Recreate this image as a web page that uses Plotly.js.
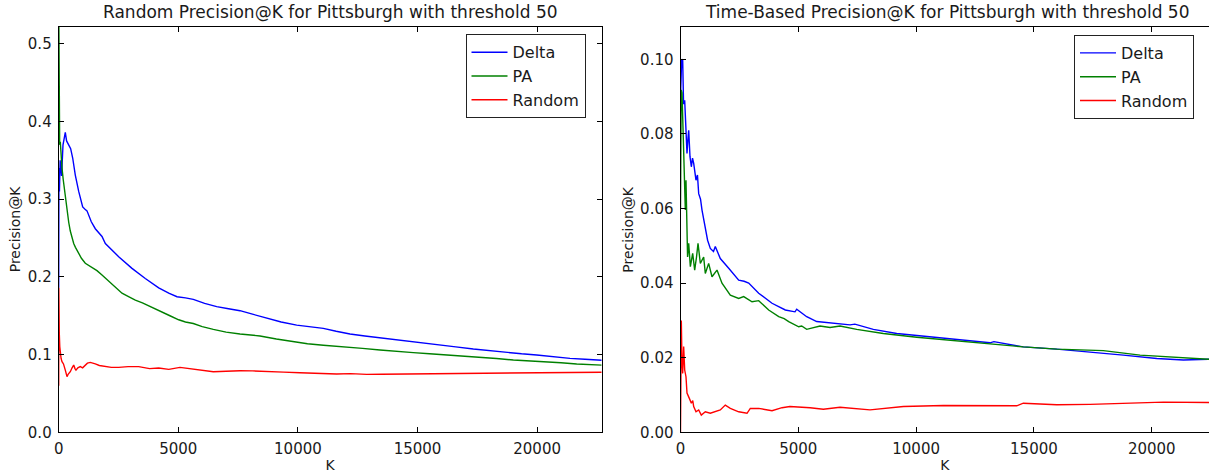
<!DOCTYPE html>
<html>
<head>
<meta charset="utf-8">
<script src="https://cdn.plot.ly/plotly-3.0.1.min.js"></script>
<style>html,body{margin:0;padding:0;background:#fff;}#chart{width:1209px;height:473px;}</style>
</head>
<body>
<div id="chart"></div>
<script>
// ---------- Left panel: Random Precision@K ----------
const leftDeltaK = [0,10,30,60,120,180,276,330,418,500,585,694,836,1003,1100,1183,1363,1530,1810,1950,2508,3064,3620,4181,4600,4946,5300,5627,6100,6605,7100,7580,8100,8696,9300,9950,10500,11062,11600,12178,12800,13432,14050,14686,15300,15940,16600,17333,18000,18729,19350,19983,20700,21375,22000,22700];
const leftDeltaP = [0.186,0.34,0.31,0.35,0.33,0.37,0.386,0.375,0.370,0.365,0.353,0.331,0.310,0.290,0.287,0.285,0.271,0.262,0.252,0.243,0.226,0.211,0.198,0.186,0.179,0.1745,0.173,0.171,0.166,0.1617,0.159,0.1565,0.152,0.1467,0.142,0.138,0.1355,0.1338,0.130,0.1265,0.124,0.1218,0.1195,0.1175,0.115,0.1124,0.110,0.1072,0.105,0.1025,0.101,0.0995,0.097,0.0952,0.094,0.0928];

const leftPAK = [0,15,40,67,100,138,190,250,300,347,420,485,560,627,700,836,950,1112,1250,1463,1600,1810,2000,2228,2400,2646,2900,3203,3500,3763,4050,4319,4650,5017,5300,5627,6000,6464,7000,7580,8000,8416,9100,9808,10400,11062,12040,12700,13432,14100,14825,15500,16220,16900,17614,18300,19006,19700,20400,21000,21655,22200,22700];
const leftPAP = [0.56,0.42,0.37,0.374,0.35,0.34,0.325,0.310,0.295,0.284,0.27,0.259,0.250,0.243,0.238,0.230,0.224,0.2175,0.215,0.211,0.208,0.2025,0.197,0.1917,0.186,0.179,0.175,0.170,0.1665,0.1626,0.158,0.154,0.150,0.1448,0.142,0.140,0.136,0.1325,0.129,0.1265,0.125,0.124,0.120,0.1166,0.114,0.112,0.110,0.108,0.106,0.104,0.1025,0.101,0.0995,0.098,0.0969,0.095,0.093,0.092,0.0909,0.0895,0.0879,0.087,0.0865];

const leftRandK = [0,5,15,25,45,67,100,138,200,276,320,347,400,485,560,627,680,723,800,903,1000,1112,1200,1321,1450,1530,1700,1950,2200,2508,2900,3344,3800,4181,4600,5071,5627,6000,6464,7000,7580,8100,8696,9400,10087,10800,11620,12200,12875,13500,14268,15000,15661,16300,17055,17700,18450,19100,19843,20500,21236,22000,22700];
const leftRandP = [0.06,0.186,0.10,0.127,0.11,0.1017,0.095,0.091,0.088,0.080,0.074,0.0716,0.075,0.078,0.083,0.0866,0.082,0.080,0.083,0.0845,0.083,0.0866,0.089,0.090,0.089,0.088,0.086,0.0845,0.0835,0.0836,0.0845,0.0845,0.082,0.0828,0.081,0.0836,0.0815,0.0805,0.078,0.0785,0.0793,0.079,0.078,0.0775,0.0767,0.076,0.075,0.0755,0.0746,0.0748,0.075,0.0752,0.0754,0.0758,0.0759,0.0762,0.0767,0.0765,0.0767,0.077,0.0772,0.0772,0.0773];

// ---------- Right panel: Time-Based Precision@K ----------
const rightDeltaK = [0,50,93,130,178,233,276,320,348,403,460,510,560,658,720,772,850,913,1053,1150,1265,1400,1477,1580,1689,2046,2470,2700,2895,3319,3884,4448,4700,4860,4932,5356,5781,6486,7194,7400,8184,9177,10306,11723,12500,13137,13300,14550,15968,17382,18795,20213,21342,22403,22700];
const rightDeltaP = [0.09,0.1,0.0998,0.088,0.089,0.082,0.0748,0.079,0.081,0.0739,0.0712,0.0735,0.0721,0.0676,0.069,0.064,0.0625,0.0596,0.0542,0.0515,0.0493,0.0485,0.0498,0.048,0.0466,0.044,0.0408,0.0405,0.040,0.0373,0.0346,0.0328,0.0326,0.0323,0.033,0.031,0.0297,0.0292,0.0288,0.029,0.0276,0.0265,0.0258,0.0249,0.0245,0.024,0.0243,0.0229,0.0223,0.0216,0.0207,0.0198,0.0194,0.0196,0.0196];

const rightPAK = [0,30,64,100,134,170,205,233,276,300,348,418,517,602,680,743,842,983,1053,1195,1337,1549,1761,2115,2470,2682,3035,3319,3743,4168,4400,4592,5017,5143,5356,5921,6346,6770,7479,8608,10025,11440,12853,14550,15968,17946,19504,20916,22403,22700];
const rightPAP = [0.06,0.0918,0.091,0.082,0.078,0.07,0.0596,0.0676,0.053,0.047,0.0507,0.0444,0.048,0.0435,0.047,0.0507,0.0453,0.047,0.0426,0.0453,0.0417,0.0435,0.040,0.0368,0.0359,0.0364,0.035,0.0353,0.0328,0.031,0.0305,0.0297,0.0283,0.0285,0.0276,0.0285,0.0281,0.0285,0.0276,0.0265,0.0255,0.0247,0.024,0.0229,0.0223,0.0219,0.0207,0.0201,0.0196,0.0196];

const rightRandK = [0,15,35,60,93,134,178,233,276,375,460,520,560,658,772,883,1053,1265,1477,1689,1901,2115,2470,2823,2963,3319,3884,4308,4643,5500,6062,6770,8043,9460,11158,12853,14270,14550,15968,17382,18795,20496,22403,22700];
const rightRandP = [0.0,0.03,0.030,0.02,0.0158,0.023,0.0167,0.0149,0.0105,0.0091,0.0078,0.0085,0.0069,0.0055,0.006,0.0046,0.0055,0.0051,0.0055,0.006,0.0073,0.0064,0.0055,0.0051,0.0064,0.0064,0.0058,0.0066,0.0069,0.0066,0.0062,0.0067,0.006,0.0069,0.0072,0.0071,0.0071,0.0078,0.0074,0.0075,0.0078,0.0081,0.008,0.008];

const seriesNames = ['Delta','PA','Random'];
const seriesColors = ['#0000ff','#008000','#ff0000'];
const leftTitle = 'Random Precision@K for Pittsburgh with threshold 50';
const rightTitle = 'Time-Based Precision@K for Pittsburgh with threshold 50';
const xTickVals = [0,5000,10000,15000,20000];
const leftYTicks = [0.0,0.1,0.2,0.3,0.4,0.5];
const leftYText = ['0.0','0.1','0.2','0.3','0.4','0.5'];
const rightYTicks = [0.00,0.02,0.04,0.06,0.08,0.10];
const rightYText = ['0.00','0.02','0.04','0.06','0.08','0.10'];

const FONT = 'DejaVu Sans, sans-serif';
const TXT = '#1a1a1a';

function tr(x, y, i, xa, ya, leg) {
  return {x: x, y: y, type: 'scatter', mode: 'lines', name: seriesNames[i],
    xaxis: xa, yaxis: ya, legend: leg,
    line: {color: seriesColors[i], width: 1.4}, hoverinfo: 'skip'};
}

const data = [
  tr(leftDeltaK, leftDeltaP, 0, 'x', 'y', 'legend'),
  tr(leftPAK, leftPAP, 1, 'x', 'y', 'legend'),
  tr(leftRandK, leftRandP, 2, 'x', 'y', 'legend'),
  tr(rightDeltaK, rightDeltaP, 0, 'x2', 'y2', 'legend2'),
  tr(rightPAK, rightPAP, 1, 'x2', 'y2', 'legend2'),
  tr(rightRandK, rightRandP, 2, 'x2', 'y2', 'legend2')
];

const W = 1209, H = 473;
const axBase = {
  showgrid: false, zeroline: false, showline: true, linecolor: '#000', linewidth: 1,
  ticks: 'inside', ticklen: 5, tickwidth: 1, tickcolor: '#000', ticklabelstandoff: 3,
  tickfont: {family: FONT, size: 15, color: TXT}, fixedrange: true
};
const yBot = 1 - 432.3 / H, yTop = 1 - 26.7 / H;

const layout = {
  width: W, height: H,
  margin: {l: 0, r: 0, t: 0, b: 0},
  paper_bgcolor: '#fff', plot_bgcolor: '#fff',
  font: {family: FONT, color: TXT},
  showlegend: true,
  xaxis: Object.assign({}, axBase, {domain: [58.7 / W, 601.7 / W], range: [0, 22700], anchor: 'y',
    tickvals: xTickVals, ticktext: xTickVals.map(String), mirror: 'ticks',
    title: {text: 'K', font: {family: FONT, size: 14, color: TXT}, standoff: 2}}),
  yaxis: Object.assign({}, axBase, {domain: [yBot, yTop], range: [0, 0.522], anchor: 'x',
    tickvals: leftYTicks, ticktext: leftYText, mirror: 'ticks',
    title: {text: 'Precision@K', font: {family: FONT, size: 14, color: TXT}, standoff: 3}}),
  xaxis2: Object.assign({}, axBase, {domain: [680.5 / W, 1], range: [0, 22430], anchor: 'y2',
    tickvals: xTickVals, ticktext: xTickVals.map(String), mirror: 'ticks',
    title: {text: 'K', font: {family: FONT, size: 14, color: TXT}, standoff: 2}}),
  yaxis2: Object.assign({}, axBase, {domain: [yBot, 1 - 27.3 / H], range: [0, 0.1086], anchor: 'x2',
    tickvals: rightYTicks, ticktext: rightYText, mirror: false,
    title: {text: 'Precision@K', font: {family: FONT, size: 14, color: TXT}, standoff: 3}}),
  legend: {x: 585.5 / W, y: 1 - 34.3 / H, xanchor: 'right', yanchor: 'top',
    bgcolor: '#fff', bordercolor: '#222', borderwidth: 1,
    font: {family: FONT, size: 16, color: TXT}, tracegroupgap: 0, itemwidth: 36},
  legend2: {x: 1194 / W, y: 1 - 35 / H, xanchor: 'right', yanchor: 'top',
    bgcolor: '#fff', bordercolor: '#222', borderwidth: 1,
    font: {family: FONT, size: 16, color: TXT}, tracegroupgap: 0, itemwidth: 36},
  annotations: [
    {text: leftTitle, xref: 'paper', yref: 'paper', x: (58.7 + 601.7) / 2 / W, y: 1 - 12 / H,
      xanchor: 'center', yanchor: 'middle', showarrow: false, font: {family: FONT, size: 17, color: TXT}},
    {text: rightTitle, xref: 'paper', yref: 'paper', x: (680.5 + 1215) / 2 / W, y: 1 - 12 / H,
      xanchor: 'center', yanchor: 'middle', showarrow: false, font: {family: FONT, size: 17, color: TXT}}
  ]
};

Plotly.newPlot('chart', data, layout, {staticPlot: true, displayModeBar: false});
</script>
</body>
</html>
